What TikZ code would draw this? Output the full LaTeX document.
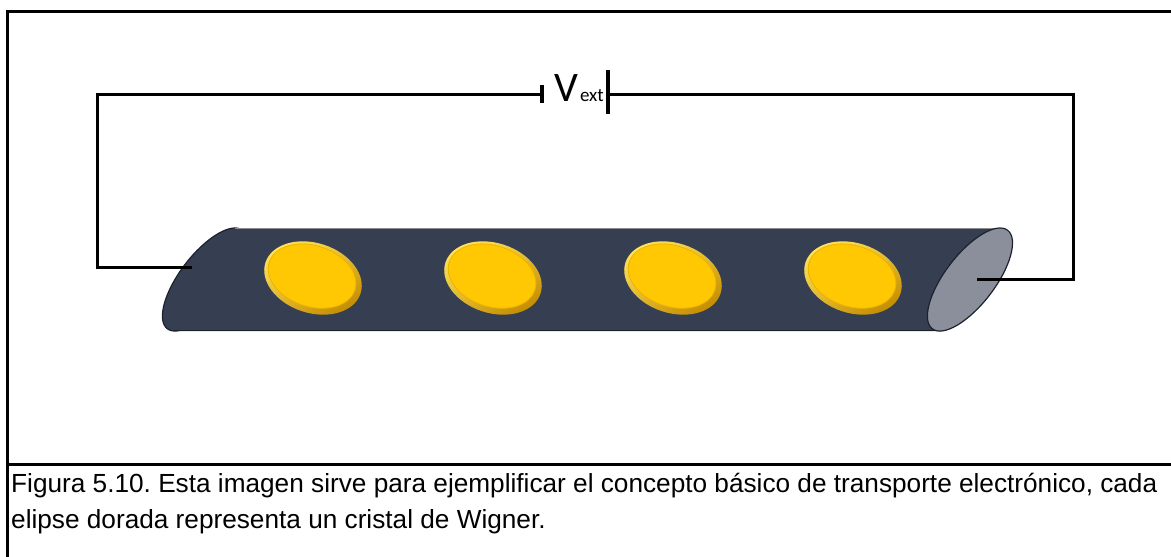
\documentclass[tikz,border=0pt]{standalone}
\usepackage{fontspec}
\setmainfont{Liberation Sans}
\newfontfamily\labelfont{Carlito}
\frenchspacing
\definecolor{tubebody}{HTML}{353F51}
\definecolor{tubeedge}{HTML}{1C222C}
\definecolor{tubeface}{HTML}{8A8F9B}
\definecolor{goldface}{HTML}{FFC802}
\definecolor{goldlight}{HTML}{FFE45C}
\definecolor{golddark}{HTML}{C48C00}
\definecolor{goldrim}{HTML}{EDB300}
\tikzset{
  frameline/.style={line width=3pt, black},
  wire/.style={line width=3pt, black},
  plate/.style={line width=3.4pt, black},
  caption/.style={anchor=base west, inner sep=0pt, font=\fontsize{26.2}{26.2}\selectfont},
}
\newcommand{\goldellipse}[2]{%
  \begin{scope}[shift={(#1,#2)}, rotate=-18]
    \shade[top color=goldlight, bottom color=golddark, shading angle=30]
      (0,0) ellipse [x radius=50, y radius=35];
    \fill[goldface, draw=goldrim, line width=0.8pt]
      (-1.5,-1.5) ellipse [x radius=45, y radius=30.5];
  \end{scope}}
\begin{document}
\begin{tikzpicture}[x=1pt,y=-1pt]
\useasboundingbox (0,0) rectangle (1171,557);

% outer frame and caption divider
\draw[frameline] (7,557) -- (7,11) -- (1171,11);
\draw[frameline] (7,464) -- (1171,464);

% tube: rear cap, body, front face
\coordinate (capL) at (205,279.5);
\coordinate (capR) at (970,279.5);
\fill[tubebody, draw=tubeedge, line width=1.2pt, rotate around={52.6:(capL)}]
  (capL) ellipse [x radius=62, y radius=25];
\fill[tubebody] (235,228) -- (1000,228) -- (940,331) -- (175,331) -- cycle;
\draw[black!45, line width=0.6pt] (235,228.3) -- (1000,228.3);
\draw[tubeedge, line width=0.8pt] (175,330.7) -- (940,330.7);
\fill[tubeface, draw=tubeedge, line width=1.2pt, rotate around={52.6:(capR)}]
  (capR) ellipse [x radius=62, y radius=25];

% gold ellipses
\goldellipse{313}{278}
\goldellipse{493}{278}
\goldellipse{673}{278}
\goldellipse{853}{278}

% battery
\coordinate (plateS) at (542,94);
\coordinate (plateL) at (608,94);
\draw[plate] (542,85) -- (542,103);
\draw[plate] (608,70) -- (608,114);
\node[anchor=base west, inner sep=0pt, font=\labelfont\fontsize{42}{42}\selectfont]
  (vext) at (554,101) {V\hspace{2pt}{\fontsize{19}{19}\selectfont ext}};

% circuit wires
\coordinate (tl) at (97,94);
\coordinate (bl) at (97,267);
\coordinate (termL) at (192,267);
\coordinate (tr) at (1073,94);
\coordinate (br) at (1073,279);
\coordinate (termR) at (977,279);
\draw[wire] (plateS) -- (tl) -- (bl) -- (termL);
\draw[wire] (plateL) -- (tr) -- (br) -- (termR);

% caption
\node[caption] (cap1) at (11,492)
  {Figura 5.10. Esta imagen sirve para ejemplificar el concepto básico de transporte electrónico, cada};
\node[caption] (cap2) at (11,528)
  {elipse dorada representa un cristal de Wigner.};
\end{tikzpicture}
\end{document}
